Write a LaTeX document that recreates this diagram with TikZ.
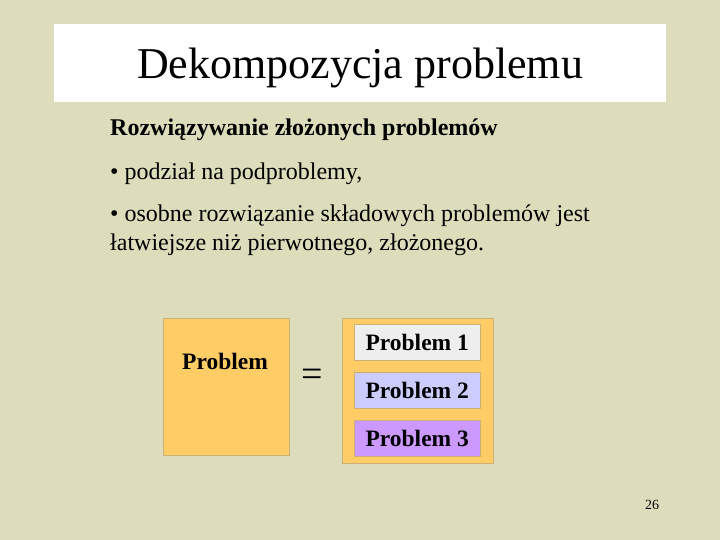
\documentclass[tikz,border=0pt]{standalone}
\usepackage{fontspec}
\setmainfont{Liberation Serif}
\usepackage{tikz}
\usetikzlibrary{positioning}
\definecolor{tlo}{RGB}{221,221,187}
\definecolor{pomar}{RGB}{255,204,102}
\definecolor{ramka}{RGB}{204,176,120}
\definecolor{szary}{RGB}{238,238,238}
\definecolor{niebieski}{RGB}{204,204,255}
\definecolor{fiolet}{RGB}{204,153,255}
\tikzset{
  tekst/.style={anchor=base west, inner sep=0pt, font=\fontsize{24}{28}\selectfont},
  podzad/.style={draw=ramka, minimum width=126pt, minimum height=36pt, inner sep=0pt,
    font=\fontsize{23.5}{26}\selectfont\bfseries}
}

\begin{document}
\begin{tikzpicture}[x=1pt,y=-1pt]
\fill[tlo] (0,0) rectangle (720,540);
\useasboundingbox (0,0) rectangle (720,540);

% tytul
\node (pasek) [fill=white, minimum width=612pt, minimum height=78pt, inner sep=0pt] at (360,63) {};
\node (tytul) [font=\fontsize{44}{48}\selectfont, anchor=base, inner sep=0pt] at (360,79) {Dekompozycja problemu};

\node (naglowek) [tekst, font=\fontsize{24}{28}\selectfont\bfseries] at (110,136) {Rozwiązywanie złożonych problemów};
\node (punkt1) [tekst] at (110,180) {• podział na podproblemy,};
\node (punkt2) [tekst] at (110,222) {• osobne rozwiązanie składowych problemów jest};
\node (punkt3) [tekst] at (110,250) {łatwiejsze niż pierwotnego, złożonego.};

% problem
\node (problem) [draw=ramka, fill=pomar, minimum width=126pt, minimum height=137pt, inner sep=0pt,
  anchor=north west] at (163,318) {};
\node (nazwa) [font=\fontsize{23.5}{26}\selectfont\bfseries] at (225,361) {Problem};
\node (rowna) [font=\fontsize{38}{40}\selectfont] at (312,378) {=};

\node (calosc) [draw=ramka, fill=pomar, minimum width=151pt, minimum height=145pt, inner sep=0pt,
  anchor=north west] at (342,318) {};
\node (p1) [podzad, fill=szary, anchor=north west] at (354,324) {Problem 1};
\node (p2) [podzad, fill=niebieski, anchor=north west] at (354,372) {Problem 2};
\node (p3) [podzad, fill=fiolet, anchor=north west] at (354,420) {Problem 3};

\node (strona) [font=\fontsize{14}{16}\selectfont] at (652,505) {26};
\end{tikzpicture}
\end{document}
